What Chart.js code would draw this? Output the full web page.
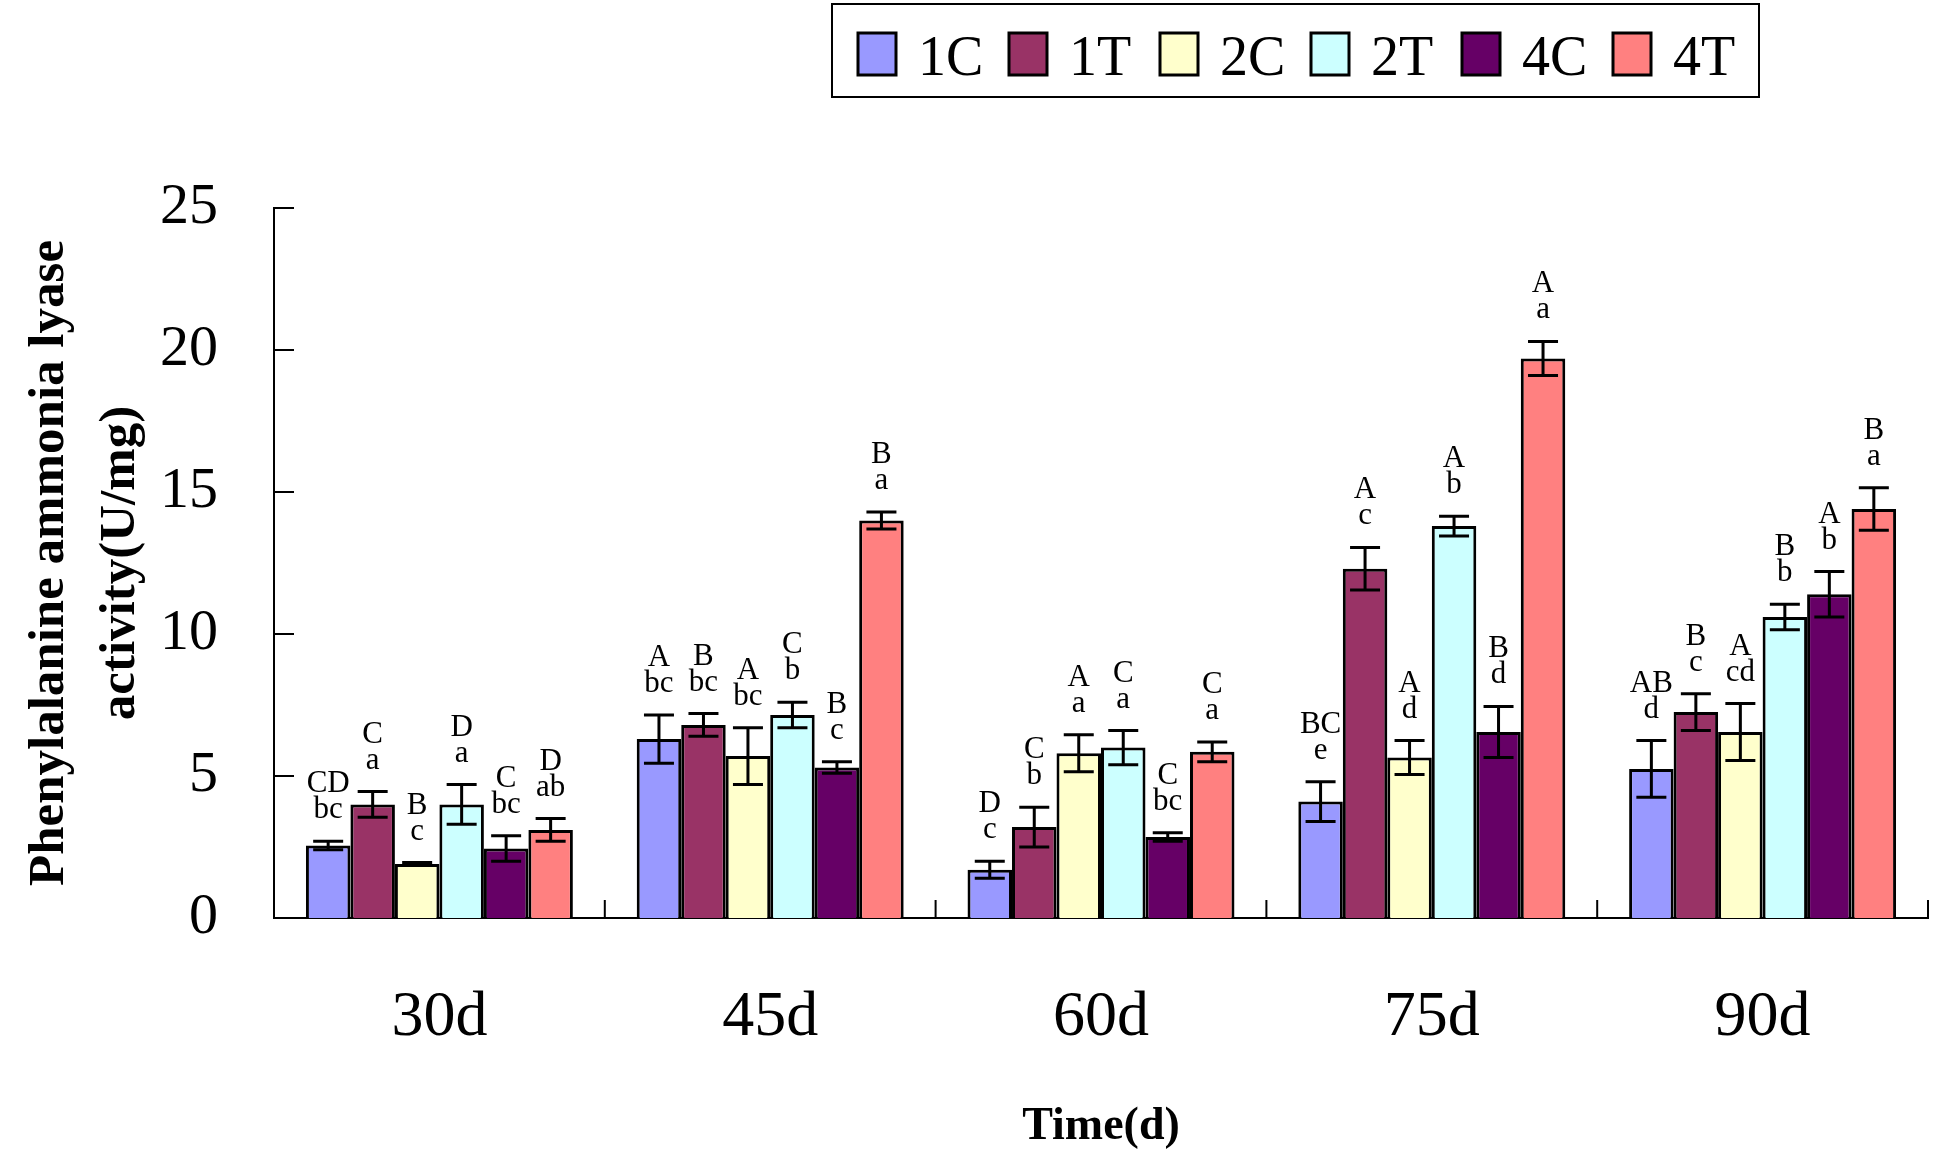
<!DOCTYPE html>
<html>
<head>
<meta charset="utf-8">
<title>PAL activity</title>
<script src="https://cdn.jsdelivr.net/npm/chart.js@4.4.0/dist/chart.umd.min.js"></script>
<style>
  body { margin: 0; background: #fff; }
  canvas { display: block; }
</style>
</head>
<body>
<canvas id="myChart" width="1950" height="1166"></canvas>
<script>
'use strict';

// categories and series
let days = ['30d', '45d', '60d', '75d', '90d'];
let seriesNames = ['1C', '1T', '2C', '2T', '4C', '4T'];
let seriesColors = ['#9999ff', '#993366', '#ffffcc', '#ccffff', '#660066', '#ff8080'];

// bar heights
let val1C = [2.55, 6.3, 1.7, 4.1, 5.25];
let val1T = [4.0, 6.8, 3.2, 12.3, 7.25];
let val2C = [1.9, 5.7, 5.8, 5.65, 6.55];
let val2T = [4.0, 7.15, 6.0, 13.8, 10.6];
let val4C = [2.45, 5.3, 2.85, 6.55, 11.4];
let val4T = [3.1, 14.0, 5.85, 19.7, 14.4];

// error bars (+/-)
let err1C = [0.15, 0.85, 0.3, 0.7, 1.0];
let err1T = [0.45, 0.4, 0.7, 0.75, 0.65];
let err2C = [0.05, 1.0, 0.65, 0.6, 1.0];
let err2T = [0.7, 0.45, 0.6, 0.35, 0.45];
let err4C = [0.45, 0.2, 0.15, 0.9, 0.8];
let err4T = [0.4, 0.3, 0.35, 0.6, 0.75];

// significance letters, upper row and lower row
let up1C = ['CD', 'A', 'D', 'BC', 'AB'];
let lo1C = ['bc', 'bc', 'c', 'e', 'd'];
let up1T = ['C', 'B', 'C', 'A', 'B'];
let lo1T = ['a', 'bc', 'b', 'c', 'c'];
let up2C = ['B', 'A', 'A', 'A', 'A'];
let lo2C = ['c', 'bc', 'a', 'd', 'cd'];
let up2T = ['D', 'C', 'C', 'A', 'B'];
let lo2T = ['a', 'b', 'a', 'b', 'b'];
let up4C = ['C', 'B', 'C', 'B', 'A'];
let lo4C = ['bc', 'c', 'bc', 'd', 'b'];
let up4T = ['D', 'B', 'C', 'A', 'B'];
let lo4T = ['ab', 'a', 'a', 'a', 'a'];

// y axis ticks
let yTicks = [0, 5, 10, 15, 20, 25];

let values = [val1C, val1T, val2C, val2T, val4C, val4T];
let errors = [err1C, err1T, err2C, err2T, err4C, err4T];
let upper = [up1C, up1T, up2C, up2T, up4C, up4T];
let lower = [lo1C, lo1T, lo2C, lo2T, lo4C, lo4T];

const serif = "'Liberation Serif', 'Times New Roman', serif";

let datasets = [];
for (let i = 0; i < seriesNames.length; i++) {
  datasets.push({
    label: seriesNames[i],
    data: values[i],
    backgroundColor: seriesColors[i],
    borderColor: '#000',
    borderWidth: 3,
    errors: errors[i],
    upper: upper[i],
    lower: lower[i],
  });
}

// error bars and letters above each bar
const errorBars = {
  id: 'errorBars',
  afterDatasetsDraw(chart) {
    const ctx = chart.ctx;
    const y = chart.scales.y;
    ctx.save();
    ctx.strokeStyle = '#000';
    ctx.lineWidth = 3;
    ctx.fillStyle = '#000';
    ctx.font = '31px ' + serif;
    ctx.textAlign = 'center';
    ctx.textBaseline = 'alphabetic';
    chart.data.datasets.forEach((ds, i) => {
      const meta = chart.getDatasetMeta(i);
      meta.data.forEach((bar, j) => {
        const v = ds.data[j];
        const e = ds.errors[j];
        const yTop = y.getPixelForValue(v + e);
        const yBot = y.getPixelForValue(v - e);
        ctx.beginPath();
        ctx.moveTo(bar.x, yTop);
        ctx.lineTo(bar.x, yBot);
        ctx.moveTo(bar.x - 15, yTop);
        ctx.lineTo(bar.x + 15, yTop);
        ctx.moveTo(bar.x - 15, yBot);
        ctx.lineTo(bar.x + 15, yBot);
        ctx.stroke();

        ctx.fillText(ds.lower[j], bar.x, yTop - 23);
        ctx.fillText(ds.upper[j], bar.x, yTop - 49);
      });
    });
    ctx.restore();
  }
};

// inward tick marks on both axes
const innerTicks = {
  id: 'innerTicks',
  afterDraw(chart) {
    const ctx = chart.ctx;
    const x = chart.scales.x;
    const y = chart.scales.y;
    ctx.save();
    ctx.strokeStyle = '#000';
    ctx.lineWidth = 2;
    ctx.beginPath();
    y.ticks.forEach(t => {
      const py = y.getPixelForValue(t.value);
      ctx.moveTo(x.left, py);
      ctx.lineTo(x.left + 20, py);
    });
    const n = days.length;
    for (let i = 1; i <= n; i++) {
      const px = x.left + i * x.width / n;
      ctx.moveTo(px, y.bottom);
      ctx.lineTo(px, y.bottom - 18);
    }
    ctx.stroke();
    ctx.restore();
  }
};

// boxed legend in one row
const boxLegend = {
  id: 'boxLegend',
  afterDraw(chart) {
    const ctx = chart.ctx;
    ctx.save();
    ctx.strokeStyle = '#000';
    ctx.lineWidth = 2;
    ctx.strokeRect(832, 4, 927, 93);
    ctx.font = '56px ' + serif;
    ctx.textBaseline = 'alphabetic';
    ctx.textAlign = 'left';
    chart.data.datasets.forEach((ds, i) => {
      const x0 = 858 + i * 151;
      ctx.fillStyle = ds.backgroundColor;
      ctx.fillRect(x0, 33, 38, 42);
      ctx.lineWidth = 3;
      ctx.strokeRect(x0, 33, 38, 42);
      ctx.fillStyle = '#000';
      ctx.fillText(ds.label, x0 + 60, 75);
    });
    ctx.restore();
  }
};

let ctx = document.getElementById('myChart').getContext('2d');
let myChart = new Chart(ctx, {
  type: 'bar',
  data: {
    labels: days,
    datasets: datasets
  },
  plugins: [errorBars, innerTicks, boxLegend],
  options: {
    responsive: false,
    animation: false,
    devicePixelRatio: 1,
    layout: {
      padding: { top: 208, right: 22, left: 0, bottom: 0 }
    },
    datasets: {
      bar: {
        categoryPercentage: 0.807,
        barPercentage: 1
      }
    },
    plugins: {
      legend: { display: false },
      tooltip: { enabled: false }
    },
    scales: {
      x: {
        grid: { display: false, drawTicks: false },
        border: { display: true, color: '#000', width: 2 },
        ticks: {
          color: '#000',
          padding: 62,
          font: { family: serif, size: 64 }
        },
        title: {
          display: true,
          text: 'Time(d)',
          color: '#000',
          font: { family: serif, size: 46, weight: 'bold', lineHeight: 1 },
          padding: { top: 0, bottom: 16 }
        },
        afterFit(scale) {
          scale.height = 248;
        }
      },
      y: {
        min: 0,
        max: 25,
        afterBuildTicks(scale) {
          scale.ticks = yTicks.map(v => ({ value: v }));
        },
        grid: { display: false, drawTicks: false },
        border: { display: true, color: '#000', width: 2 },
        ticks: {
          color: '#000',
          padding: 56,
          font: { family: serif, size: 58 }
        },
        title: {
          display: true,
          text: ['Phenylalanine ammonia lyase', 'activity(U/mg)'],
          color: '#000',
          font: { family: serif, size: 51, weight: 'bold', lineHeight: 1.4 },
          padding: { top: 14, bottom: 0 }
        },
        afterFit(scale) {
          scale.width = 274;
        }
      }
    }
  }
});
</script>
</body>
</html>
